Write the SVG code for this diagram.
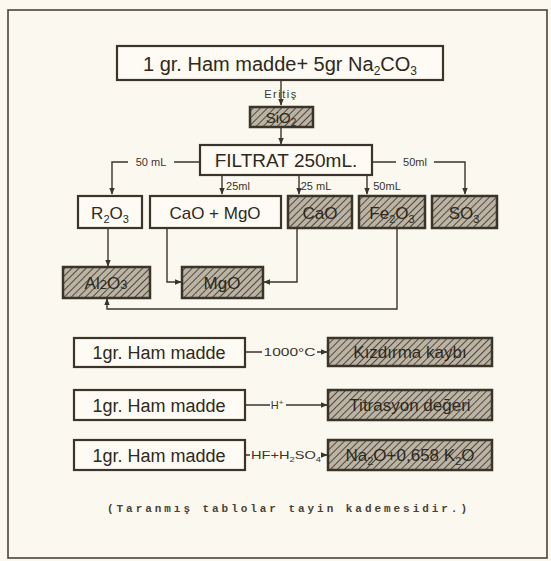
<svg xmlns="http://www.w3.org/2000/svg" width="551" height="561" viewBox="0 0 551 561">
<defs>
<pattern id="hatch" patternUnits="userSpaceOnUse" width="5" height="5" patternTransform="rotate(45)">
<rect width="5" height="5" fill="#bbb3a4"/>
<line x1="0" y1="0" x2="0" y2="5" stroke="#4f473b" stroke-width="2"/>
</pattern>
<marker id="ar" viewBox="0 0 10 10" refX="9" refY="5" markerWidth="5" markerHeight="5" orient="auto">
<path d="M0,1 L10,5 L0,9 z" fill="#3b342a"/>
</marker>
</defs>
<style>
.bx{fill:#fdfbf3;stroke:#3b342a;stroke-width:2.2}
.hb{fill:url(#hatch);stroke:#3b342a;stroke-width:2.5}
.t{font-family:"Liberation Sans",Arial,sans-serif;fill:#2f2920;text-anchor:middle}
.s{font-family:"Liberation Sans",Arial,sans-serif;fill:#3b342a;font-size:11px;text-anchor:middle}
.ln{fill:none;stroke:#3b342a;stroke-width:1.4}
</style>
<rect x="0" y="0" width="551" height="561" fill="#fbf9ef"/>
<rect x="8" y="10" width="539" height="548" fill="none" stroke="#4a4236" stroke-width="1.6"/>

<g id="connectors">
<path class="ln" d="M281,80 V105" marker-end="url(#ar)"/>
<path class="ln" d="M281,127 V144" marker-end="url(#ar)"/>
<path class="ln" d="M200,162 H174 M128,162 H112 V194" marker-end="url(#ar)"/>
<path class="ln" d="M372,162 H396 M434,162 H465 V194" marker-end="url(#ar)"/>
<path class="ln" d="M222,175 V194" marker-end="url(#ar)"/>
<path class="ln" d="M299,175 V194" marker-end="url(#ar)"/>
<path class="ln" d="M367,175 V194" marker-end="url(#ar)"/>
<path class="ln" d="M108,228 V266" marker-end="url(#ar)"/>
<path class="ln" d="M167,228 V282 H181" marker-end="url(#ar)"/>
<path class="ln" d="M297,228 V282 H264" marker-end="url(#ar)"/>
<path class="ln" d="M397,228 V309 H107 V299" marker-end="url(#ar)"/>
<path class="ln" d="M245,352 H262 M317,352 H327" marker-end="url(#ar)"/>
<path class="ln" d="M245,405 H270 M286,405 H327" marker-end="url(#ar)"/>
<path class="ln" d="M245,455 H250 M322,455 H327" marker-end="url(#ar)"/>
<text class="s" x="151" y="166">50 mL</text>
<text class="s" x="415" y="166">50ml</text>
<text class="s" x="238" y="190">25ml</text>
<text class="s" x="316" y="190">25 mL</text>
<text class="s" x="387" y="190">50mL</text>
<text class="s" x="289.5" y="356" font-size="11" textLength="52" lengthAdjust="spacingAndGlyphs">1000°C</text>
<text class="s" x="277" y="409">H<tspan dy="-4" font-size="8">+</tspan></text>
<text class="s" x="286" y="459" font-size="10" textLength="70" lengthAdjust="spacingAndGlyphs">HF+H<tspan dy="3" font-size="7">2</tspan><tspan dy="-3">SO</tspan><tspan dy="3" font-size="7">4</tspan></text>
</g>

<g id="n-top"><rect class="bx" x="117" y="46" width="326" height="34"/>
<text class="t" x="280" y="71" font-size="20">1 gr. Ham madde+ 5gr Na<tspan dy="4" font-size="12">2</tspan><tspan dy="-4">CO</tspan><tspan dy="4" font-size="12">3</tspan></text></g>
<g id="n-eritis"><text class="s" x="281" y="98" font-size="11" letter-spacing="1.5">Eritiş</text></g>
<g id="n-sio2a"><rect class="hb" x="250" y="107" width="63" height="20"/>
<text class="t" x="281" y="123" font-size="15">SiO<tspan dy="3" font-size="10">2</tspan></text></g>
<g id="n-filtrat"><rect class="bx" x="200" y="145" width="172" height="30"/>
<text class="t" x="286" y="167" font-size="19">FILTRAT 250mL.</text></g>

<g id="n-r2o3"><rect class="bx" x="78" y="196" width="64" height="32"/>
<text class="t" x="110" y="219" font-size="17">R<tspan dy="4" font-size="11">2</tspan><tspan dy="-4">O</tspan><tspan dy="4" font-size="11">3</tspan></text></g>
<g id="n-camgo"><rect class="bx" x="150" y="196" width="131" height="32"/>
<text class="t" x="215" y="219" font-size="17">CaO + MgO</text></g>
<g id="n-cao"><rect class="hb" x="288" y="196" width="64" height="32"/>
<text class="t" x="320" y="219" font-size="17">CaO</text></g>
<g id="n-fe2o3"><rect class="hb" x="359" y="196" width="66" height="32"/>
<text class="t" x="392" y="219" font-size="17">Fe<tspan dy="4" font-size="11">2</tspan><tspan dy="-4">O</tspan><tspan dy="4" font-size="11">3</tspan></text></g>
<g id="n-so3"><rect class="hb" x="432" y="196" width="65" height="32"/>
<text class="t" x="464" y="219" font-size="17">SO<tspan dy="4" font-size="11">3</tspan></text></g>

<g id="n-al2o3"><rect class="hb" x="63" y="267" width="87" height="31"/>
<text class="t" x="106" y="289" font-size="17">Al<tspan font-size="13">2</tspan>O<tspan font-size="13">3</tspan></text></g>
<g id="n-mgo"><rect class="hb" x="182" y="267" width="81" height="31"/>
<text class="t" x="222" y="289" font-size="17">MgO</text></g>

<g id="n-ham1"><rect class="bx" x="74" y="338" width="171" height="29"/>
<text class="t" x="159" y="359" font-size="18">1gr. Ham madde</text></g>
<g id="n-kizdirma"><rect class="hb" x="328" y="338" width="164" height="28"/>
<text class="t" x="410" y="358" font-size="17">Kızdırma  kaybı</text></g>
<g id="n-ham2"><rect class="bx" x="74" y="390" width="171" height="30"/>
<text class="t" x="159" y="412" font-size="18">1gr. Ham  madde</text></g>
<g id="n-titrasyon"><rect class="hb" x="328" y="390" width="164" height="30"/>
<text class="t" x="410" y="411" font-size="17">Titrasyon değeri</text></g>
<g id="n-ham3"><rect class="bx" x="74" y="440" width="171" height="30"/>
<text class="t" x="159" y="462" font-size="18">1gr. Ham madde</text></g>
<g id="n-na2o"><rect class="hb" x="328" y="440" width="164" height="30"/>
<text class="t" x="410" y="461" font-size="17">Na<tspan dy="4" font-size="11">2</tspan><tspan dy="-4">O+0,658 K</tspan><tspan dy="4" font-size="11">2</tspan><tspan dy="-4">O</tspan></text></g>

<g id="caption"><text x="287" y="512" font-family="Liberation Mono,monospace" font-size="11" font-weight="bold" fill="#4a4236" text-anchor="middle" textLength="360" lengthAdjust="spacing">(Taranmış  tablolar  tayin  kademesidir.)</text></g>
</svg>
